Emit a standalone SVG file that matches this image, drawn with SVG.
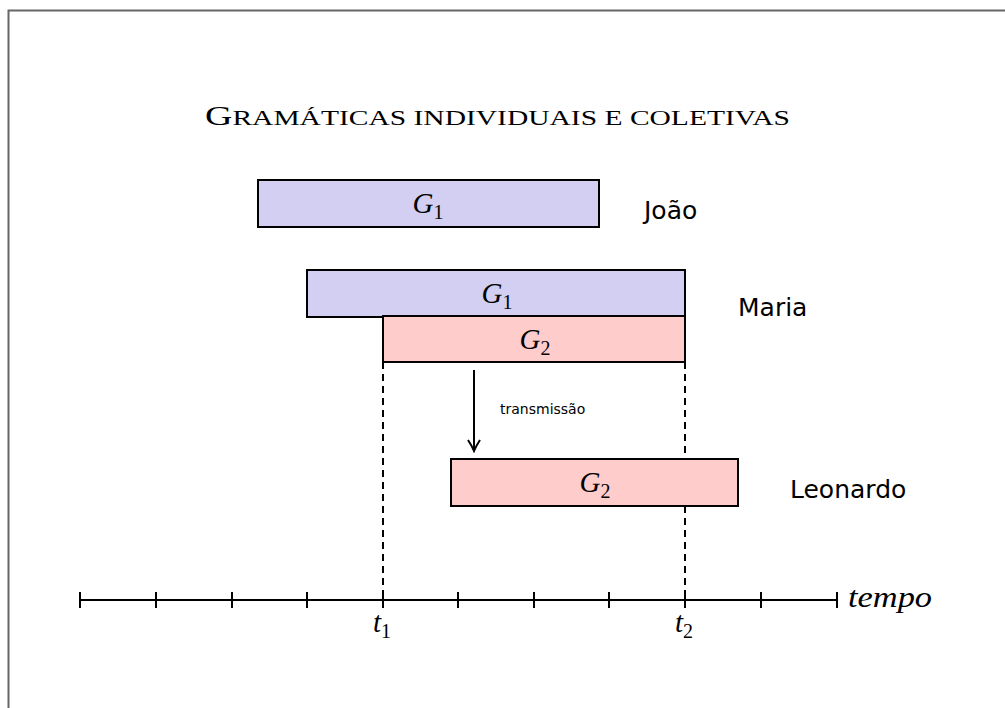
<svg xmlns="http://www.w3.org/2000/svg" width="1005" height="708" viewBox="0 0 1005 708">
<defs>
<style>
.frame{fill:none;stroke:#666;stroke-width:2}
.box{stroke:#000;stroke-width:2}
.blue{fill:#d3cff2}
.red{fill:#ffcccc}
.math{font-family:"Liberation Serif","DejaVu Serif",serif;font-style:italic;font-size:29px;fill:#000}
.sub{font-family:"Liberation Serif","DejaVu Serif",serif;font-style:normal;font-size:20px}
.name{font-family:"DejaVu Sans","Liberation Sans",sans-serif;font-size:25px;fill:#000}
.small{font-family:"DejaVu Sans","Liberation Sans",sans-serif;font-size:14px;fill:#000}
.axis{stroke:#000;stroke-width:2;fill:none}
.dash{stroke:#000;stroke-width:2;stroke-dasharray:7,5;fill:none}
.title{font-family:"Liberation Serif","DejaVu Serif",serif;fill:#000}
</style>
<marker id="arr" viewBox="0 0 14 14" refX="12" refY="7" markerWidth="14" markerHeight="14" markerUnits="userSpaceOnUse" orient="auto">
<path d="M1,1 Q7,5 12,7 Q7,9 1,13" fill="none" stroke="#000" stroke-width="2"/>
</marker>
</defs>
<rect width="1005" height="708" fill="#fff"/>
<path class="frame" d="M8.5,708 V10.5 H1005"/>
<text class="title" x="205" y="125" textLength="585" lengthAdjust="spacingAndGlyphs"><tspan font-size="27">G</tspan><tspan font-size="21">RAMÁTICAS INDIVIDUAIS E COLETIVAS</tspan></text>

<g id="connectors">
<path class="dash" d="M383,362 V600"/>
<path class="dash" d="M685,362 V600"/>
<path class="axis" d="M474,370 V451" marker-end="url(#arr)"/>
</g>

<g id="axis">
<path class="axis" d="M80,600 H838"/>
<path class="axis" d="M80,592 V608 M156,592 V608 M232,592 V608 M307,592 V608 M383,592 V608 M458,592 V608 M534,592 V608 M609,592 V608 M685,592 V608 M761,592 V608 M837,592 V608"/>
<text class="math" x="848" y="607" textLength="84" lengthAdjust="spacingAndGlyphs">tempo</text>
<text class="math" x="382" y="632" text-anchor="middle">t<tspan class="sub" dy="6">1</tspan></text>
<text class="math" x="684" y="632" text-anchor="middle">t<tspan class="sub" dy="6">2</tspan></text>
</g>

<g id="joao">
<rect class="box blue" x="258" y="180" width="341" height="47"/>
<text class="math" x="428" y="213" text-anchor="middle">G<tspan class="sub" dy="6">1</tspan></text>
<text class="name" x="644" y="219">João</text>
</g>

<g id="maria">
<rect class="box blue" x="307" y="270" width="378" height="47"/>
<text class="math" x="497" y="303" text-anchor="middle">G<tspan class="sub" dy="6">1</tspan></text>
<rect class="box red" x="383" y="316" width="302" height="46"/>
<text class="math" x="535" y="349" text-anchor="middle">G<tspan class="sub" dy="6">2</tspan></text>
<text class="name" x="738" y="316">Maria</text>
</g>

<g id="transmissao">
<text class="small" x="500" y="414">transmissão</text>
</g>

<g id="leonardo">
<rect class="box red" x="451" y="459" width="287" height="47"/>
<text class="math" x="595" y="492" text-anchor="middle">G<tspan class="sub" dy="6">2</tspan></text>
<text class="name" x="790" y="498">Leonardo</text>
</g>
</svg>
